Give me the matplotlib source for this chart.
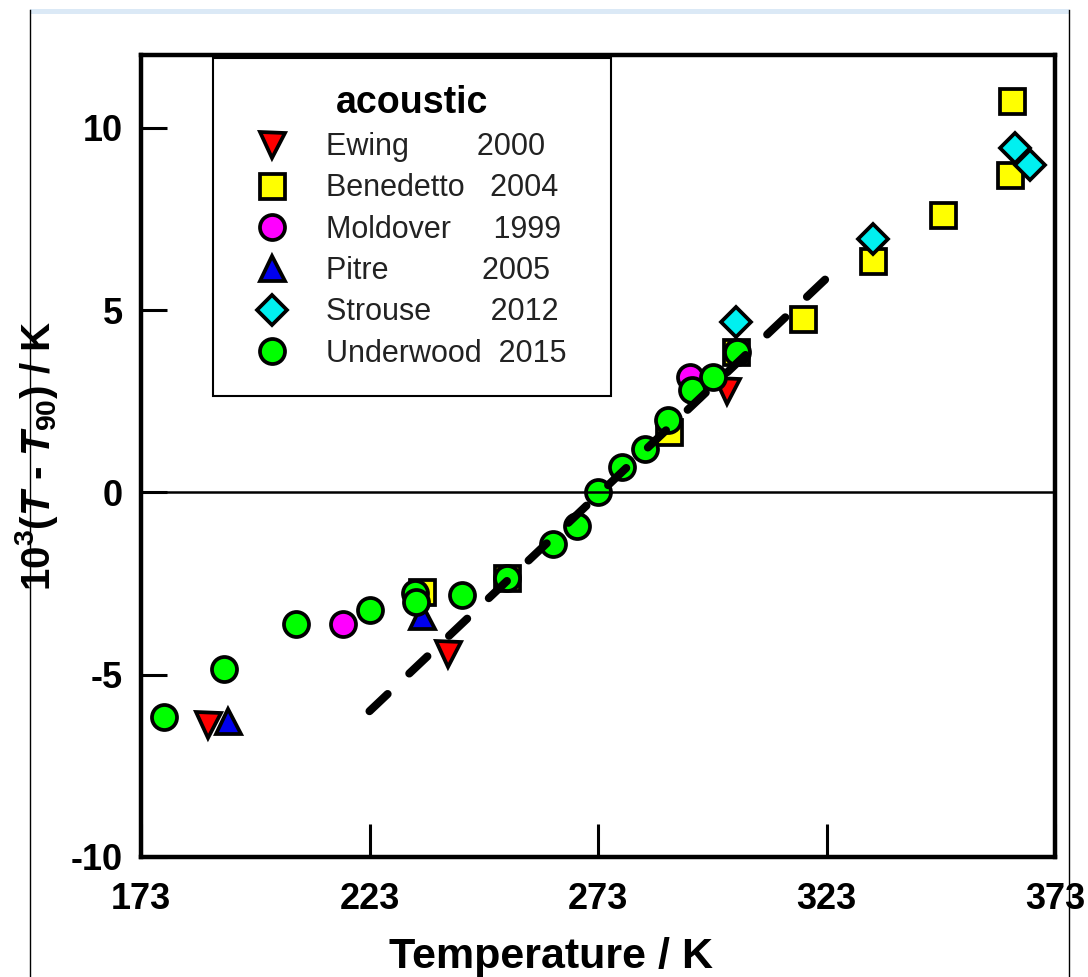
import matplotlib
matplotlib.use("Agg")
import matplotlib.pyplot as plt
from matplotlib.lines import Line2D
from matplotlib.patches import Rectangle

plt.rcParams['font.family'] = ['Liberation Sans', 'DejaVu Sans']
plt.rcParams['axes.unicode_minus'] = False
plt.rcParams['mathtext.fontset'] = 'custom'
plt.rcParams['mathtext.rm'] = 'Liberation Sans:bold'
plt.rcParams['mathtext.bf'] = 'Liberation Sans:bold'
plt.rcParams['mathtext.it'] = 'Liberation Sans:bold:italic'

# data: temperature (K) and 10^3 (T - T90) (K)
ewing_T = [187.7, 240.2, 301.2]
ewing_d = [-6.39, -4.43, 2.79]

benedetto_T = [234.5, 253.1, 288.5, 303.2, 317.9, 333.2, 348.5, 363.6, 363.2]
benedetto_d = [-2.73, -2.35, 1.67, 3.85, 4.75, 6.34, 7.60, 10.74, 8.72]

moldover_T = [217.2, 293.1]
moldover_d = [-3.61, 3.17]

pitre_T = [192.0, 234.5]
pitre_d = [-6.28, -3.39]

strouse_T = [303.2, 333.2, 364.2, 367.5]
strouse_d = [4.67, 6.94, 9.45, 8.99]

underwood_T = [178.0, 191.2, 206.9, 223.1, 233.0, 233.2, 243.2, 253.1, 263.2, 268.4,
               273.0, 278.3, 283.3, 288.3, 293.6, 298.2, 303.4]
underwood_d = [-6.15, -4.84, -3.61, -3.22, -2.76, -3.01, -2.81, -2.35, -1.42, -0.93,
               0.0, 0.71, 1.20, 1.99, 2.81, 3.17, 3.85]

fit_T = [223.0, 323.8]
fit_d = [-6.0, 5.97]

series = [
    ("Ewing        2000", ewing_T, ewing_d, "v", "#ff0000", 18),
    ("Benedetto   2004", benedetto_T, benedetto_d, "s", "#ffff00", 18),
    ("Moldover     1999", moldover_T, moldover_d, "o", "#ff00ff", 18),
    ("Pitre           2005", pitre_T, pitre_d, "^", "#0000ee", 18),
    ("Strouse       2012", strouse_T, strouse_d, "D", "#00f0f0", 15.5),
    ("Underwood  2015", underwood_T, underwood_d, "o", "#00ff00", 18),
]

W, H = 1088, 977
fig = plt.figure(figsize=(W / 100, H / 100), dpi=100)
fig.patch.set_facecolor("white")
ax = fig.add_axes([141 / W, (H - 857) / H, 914 / W, 802 / H])

handles = []
for label, xs, ys, mk, col, ms in series:
    h, = ax.plot(xs, ys, linestyle="none", marker=mk, markersize=ms,
                 markerfacecolor=col, markeredgecolor="black",
                 markeredgewidth=2.7, label=label, zorder=3)
    handles.append(h)

ax.plot(fit_T, fit_d, color="black", lw=5.8, linestyle=(0, (3.1, 3.7)),
        dash_capstyle="round", zorder=4)
ax.axhline(0, color="black", lw=1.8, zorder=4)

ax.set_xlim(173, 373)
ax.set_ylim(-10, 12)
ax.set_xticks([173, 223, 273, 323, 373])
ax.set_yticks([-10, -5, 0, 5, 10])

for sp in ax.spines.values():
    sp.set_linewidth(3.2)
ax.tick_params(axis="x", direction="in", length=24, width=2.2, pad=18,
               labelsize=26, top=False)
ax.tick_params(axis="y", direction="in", length=19, width=2.2, pad=13,
               labelsize=26, right=False)
for lab in ax.get_xticklabels() + ax.get_yticklabels():
    lab.set_fontweight("bold")

ax.set_xlabel("Temperature / K", fontsize=31, fontweight="bold", va="baseline")
ax.xaxis.set_label_coords(0.4486, -0.1384)
ax.set_ylabel(r"10$^{3}$($\mathit{T}$ - $\mathit{T}_{90}$) / K", fontsize=29,
              fontweight="bold", va="center")
ax.yaxis.set_label_coords(-0.114, 0.5)

leg_top = (857 - 58) / 802
leg = ax.legend(handles=handles, loc="upper left", mode="expand",
                bbox_to_anchor=((213 - 141) / 914, leg_top - 0.01, 398 / 914, 0.01),
                borderaxespad=0, fancybox=False, framealpha=1,
                edgecolor="black", fontsize=22, title="acoustic",
                title_fontproperties={"size": 27, "weight": "bold"},
                numpoints=1, borderpad=0.88, labelspacing=0.37,
                handlelength=2.1, handletextpad=0.72)
leg.get_frame().set_linewidth(1.5)
for t in leg.get_texts():
    t.set_color("#222222")

# page frame lines around the figure
fig.add_artist(Line2D([30 / W, 30 / W], [0, 1 - 10 / H], transform=fig.transFigure,
                      color="black", lw=1))
fig.add_artist(Line2D([1069 / W, 1069 / W], [0, 1 - 10 / H], transform=fig.transFigure,
                      color="black", lw=1))
fig.add_artist(Rectangle((30 / W, 1 - 14 / H), 1039 / W, 5 / H,
                         transform=fig.transFigure, color="#dbe9f6", lw=0))

fig.savefig("out.png", dpi=100)
